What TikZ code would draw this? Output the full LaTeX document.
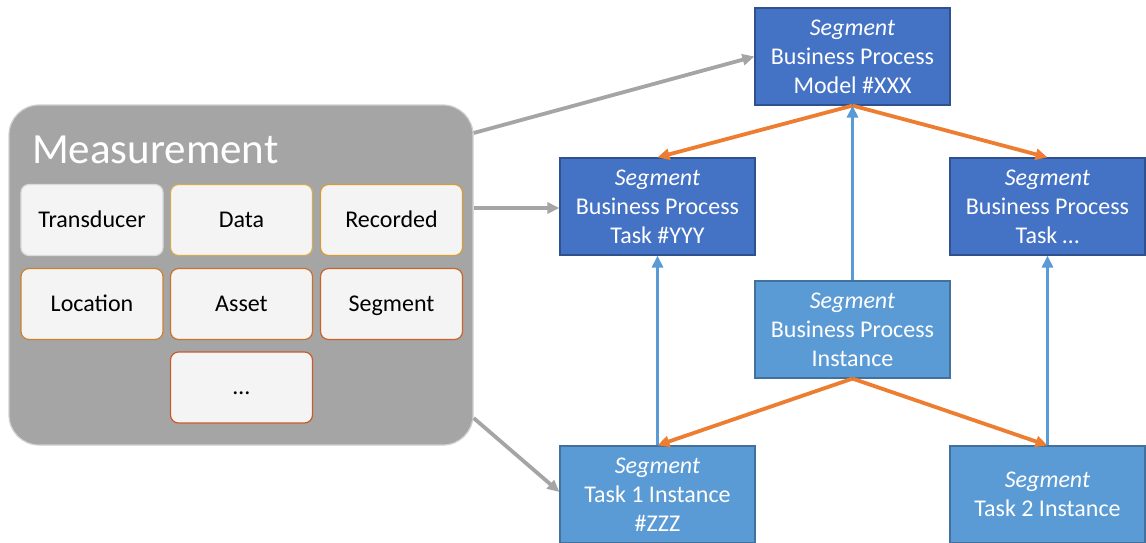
\documentclass[tikz,border=0pt]{standalone}
\usepackage{fontspec}
\setmainfont{Carlito}
\usetikzlibrary{arrows.meta}

\definecolor{dkblue}{HTML}{4472C4}
\definecolor{dkblueline}{HTML}{2F528F}
\definecolor{ltblue}{HTML}{5B9BD5}
\definecolor{ltblueline}{HTML}{41719C}
\definecolor{arrowgray}{HTML}{A5A5A5}
\definecolor{arroworange}{HTML}{ED7D31}
\definecolor{boxfill}{HTML}{F4F4F4}
\definecolor{containerfill}{HTML}{A5A5A5}
\definecolor{containerline}{HTML}{D0D0D0}
\definecolor{bTrans}{HTML}{DADADA}
\definecolor{bData}{HTML}{D4AA55}
\definecolor{bRec}{HTML}{D39E3A}
\definecolor{bLoc}{HTML}{CC8030}
\definecolor{bAsset}{HTML}{C9702C}
\definecolor{bSeg}{HTML}{C8642A}
\definecolor{bMore}{HTML}{C85A2C}

\tikzset{
  segbox/.style={rectangle, draw, line width=1.2pt, minimum width=195pt,
    minimum height=97pt, inner sep=0pt, align=center, text=white,
    font=\fontsize{24}{29}\selectfont},
  modelbox/.style={segbox, fill=dkblue, draw=dkblueline},
  instbox/.style={segbox, fill=ltblue, draw=ltblueline},
  attrbox/.style={rectangle, rounded corners=8pt, fill=boxfill, line width=1.2pt,
    minimum width=142pt, minimum height=71pt, inner sep=0pt,
    text height=18pt, text depth=4pt,
    font=\fontsize{24}{29}\selectfont},
  tip/.style={-{Triangle[length=12pt,width=11pt]}},
  grayarrow/.style={tip, draw=arrowgray, line width=3.8pt},
  orangearrow/.style={tip, draw=arroworange, line width=3.8pt},
  bluearrow/.style={tip, draw=ltblue, line width=3.2pt},
}

\begin{document}
\begin{tikzpicture}[x=1pt, y=-1pt]
\useasboundingbox (0,0) rectangle (1146,542);
\begin{scope}
\clip (0,0) rectangle (1146,542);

% Measurement container with its attributes
\node[draw=containerline, fill=containerfill, rounded corners=30pt, line width=1.2pt,
  minimum width=464pt, minimum height=340pt, inner sep=0pt] (meas) at (241,275) {};
\node[text=white, anchor=base west, font=\fontsize{43}{50}\selectfont, inner sep=0pt]
  (meastitle) at (32,163) {Measurement};

\node[attrbox, draw=bTrans] (trans) at (92,220) {Transducer};
\node[attrbox, draw=bData]  (data)  at (241.5,220) {Data};
\node[attrbox, draw=bRec]   (rec)   at (391.5,220) {Recorded};
\node[attrbox, draw=bLoc]   (loc)   at (92,304) {Location};
\node[attrbox, draw=bAsset] (asset) at (241.5,304) {Asset};
\node[attrbox, draw=bSeg]   (seg)   at (391.5,304) {Segment};
\node[attrbox, draw=bMore]  (more)  at (241.5,387.5) {\ldots};

% Segment hierarchy
\node[modelbox] (model) at (852.5,56.5) {\textit{Segment}\\Business Process\\Model \#XXX};
\node[modelbox] (taskY) at (657.5,206.5) {\textit{Segment}\\Business Process\\Task \#YYY};
\node[modelbox] (taskN) at (1047.5,206.5) {\textit{Segment}\\Business Process\\Task \ldots};
\node[instbox]  (inst)  at (852.5,329.5) {\textit{Segment}\\Business Process\\Instance};
\node[instbox]  (t1)    at (657.5,494.5) {\textit{Segment}\\Task 1 Instance\\\#ZZZ};
\node[instbox]  (t2)    at (1047.5,494.5) {\textit{Segment}\\Task 2 Instance};

% Measurement links
\draw[grayarrow] (meas.east |- 0,133) -- (model.west);
\draw[grayarrow] (meas.east |- 0,208) -- (taskY.west |- 0,208);
\draw[grayarrow] (meas.east |- 0,418) -- (t1.west |- 0,492);

% Model decomposition
\draw[orangearrow] (model.south) -- (taskY.north);
\draw[orangearrow] (model.south) -- (taskN.north);
\draw[orangearrow] (inst.south) -- (t1.north);
\draw[orangearrow] (inst.south) -- (t2.north);

% Instance-of relations
\draw[bluearrow] (inst.north) -- (model.south);
\draw[bluearrow] (t1.north) -- (taskY.south);
\draw[bluearrow] (t2.north) -- (taskN.south);
\end{scope}
\end{tikzpicture}
\end{document}
